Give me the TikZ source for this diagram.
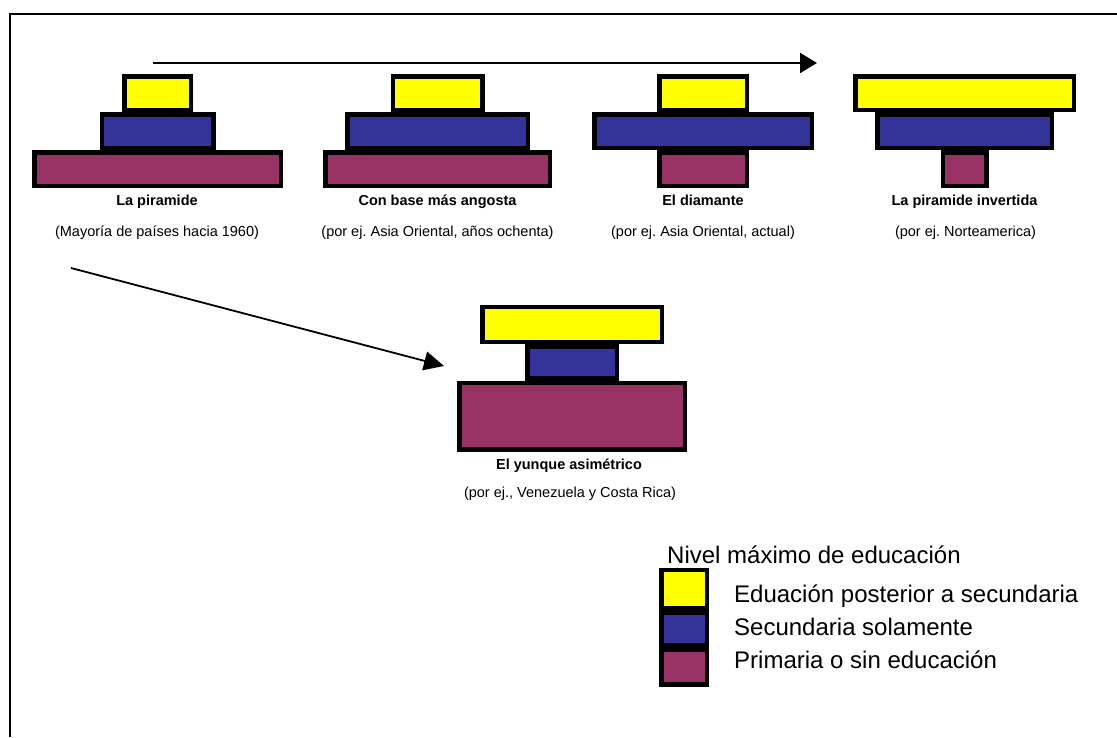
\documentclass[tikz,border=0pt]{standalone}
\usepackage{fontspec}
\setmainfont{Liberation Sans}
\usetikzlibrary{arrows.meta, positioning}
\definecolor{eduyellow}{HTML}{FFFF00}
\definecolor{edublue}{HTML}{333399}
\definecolor{edupurple}{HTML}{993366}
\frenchspacing

\begin{document}
\begin{tikzpicture}[
    x=1pt, y=-1pt,
    tier/.style={rectangle, draw=black, line width=4.5pt, inner sep=0pt, minimum height=33.5pt},
    postsec/.style={tier, fill=eduyellow},
    secondary/.style={tier, fill=edublue},
    primary/.style={tier, fill=edupurple},
    shapename/.style={anchor=base, inner sep=0pt, font=\fontsize{14.5}{17}\selectfont\bfseries},
    example/.style={anchor=base, inner sep=0pt, font=\fontsize{14.5}{17}\selectfont},
    keytext/.style={anchor=base west, inner sep=0pt, font=\fontsize{24}{28}\selectfont},
    arrow/.style={-{Triangle[length=17pt, width=20pt]}, line width=2pt}
]
    \useasboundingbox (0,0) rectangle (1117,737);
    \draw[line width=2pt] (10,737) -- (10,14) -- (1117,14);

    \coordinate (timeA) at (153,63);
    \coordinate (timeB) at (817,63);
    \draw[arrow] (timeA) -- (timeB);

    \node[secondary, minimum width=111.5pt] (pyrB) at (157.5,131.25) {};
    \node[postsec, minimum width=66.5pt, above=0pt of pyrB] (pyrA) {};
    \node[primary, minimum width=246.5pt, below=0pt of pyrB] (pyrC) {};
    \node[shapename] (pyrT) at (157,205.5) {La piramide};
    \node[example] (pyrS) at (157,236) {(Mayoría de países hacia 1960)};

    \node[secondary, minimum width=180.5pt] (narB) at (437.5,131.25) {};
    \node[postsec, minimum width=89.5pt, above=0pt of narB] (narA) {};
    \node[primary, minimum width=224.5pt, below=0pt of narB] (narC) {};
    \node[shapename] (narT) at (437.5,205.5) {Con base más angosta};
    \node[example] (narS) at (437.5,236) {(por ej. Asia Oriental, años ochenta)};

    \node[secondary, minimum width=217.5pt] (diaB) at (703,131.25) {};
    \node[postsec, minimum width=87.5pt, above=0pt of diaB] (diaA) {};
    \node[primary, minimum width=87.5pt, below=0pt of diaB] (diaC) {};
    \node[shapename] (diaT) at (703,205.5) {El diamante};
    \node[example] (diaS) at (703,236) {(por ej. Asia Oriental, actual)};

    \node[secondary, minimum width=174.5pt] (invB) at (964.5,131.25) {};
    \node[postsec, minimum width=218.5pt, above=0pt of invB] (invA) {};
    \node[primary, minimum width=43.5pt, below=0pt of invB] (invC) {};
    \node[shapename] (invT) at (964.5,205.5) {La piramide invertida};
    \node[example] (invS) at (965.5,236) {(por ej. Norteamerica)};

    \coordinate (branchA) at (71,268);
    \coordinate (branchB) at (444,366);
    \draw[arrow, line width=1.8pt, -{Triangle[length=20pt, width=19pt]}] (branchA) -- (branchB);

    \node[secondary, minimum width=89.5pt, minimum height=32pt] (anvB) at (572,362.5) {};
    \node[postsec, minimum width=179.5pt, minimum height=35.25pt, above=0pt of anvB] (anvA) {};
    \node[primary, minimum width=225.5pt, minimum height=66.25pt, below=0pt of anvB] (anvC) {};
    \node[shapename] (anvT) at (569,469.5) {El yunque asimétrico};
    \node[example] (anvS) at (570,497) {(por ej., Venezuela y Costa Rica)};

    \node[keytext] (keyT) at (667,563.3) {Nivel máximo de educación};
    \node[secondary, minimum width=45.5pt, minimum height=33pt] (keyB) at (684,629) {};
    \node[postsec, minimum width=45.5pt, minimum height=38.25pt, above=0pt of keyB] (keyA) {};
    \node[primary, minimum width=45.5pt, minimum height=34.25pt, below=0pt of keyB] (keyC) {};
    \node[keytext] (keyAT) at (734,602.5) {Eduación posterior a secundaria};
    \node[keytext] (keyBT) at (734,635.5) {Secundaria solamente};
    \node[keytext] (keyCT) at (734,668) {Primaria o sin educación};
\end{tikzpicture}
\end{document}
